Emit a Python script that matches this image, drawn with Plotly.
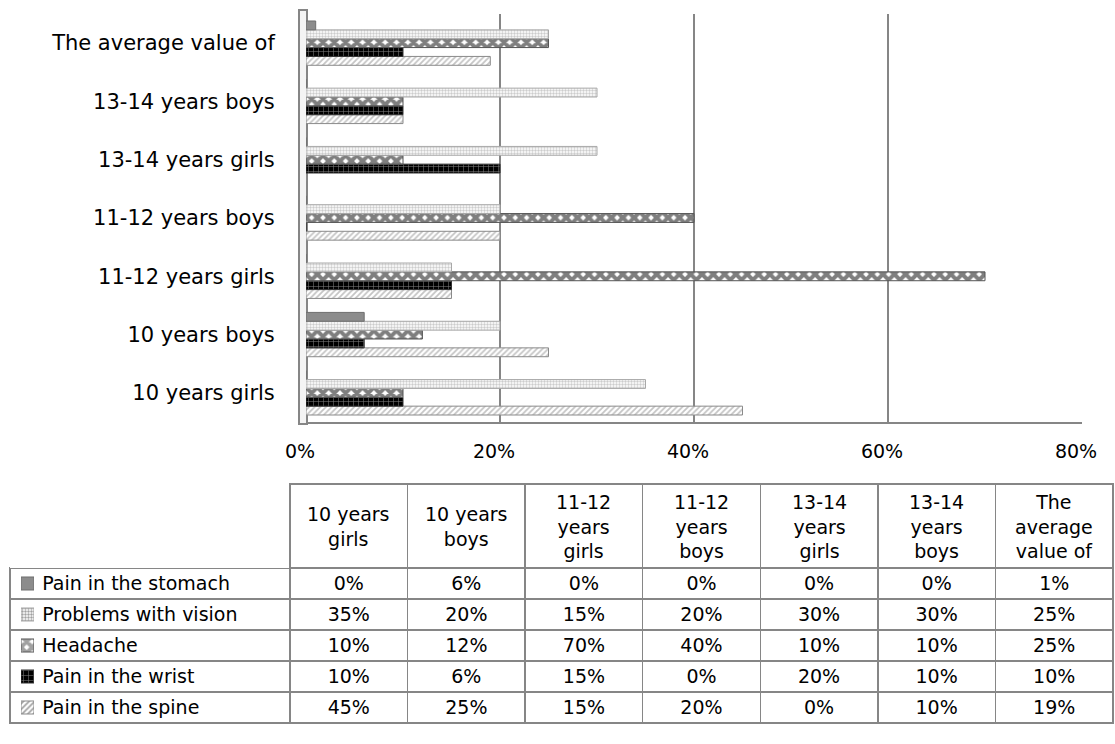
import plotly.graph_objects as go

categories = ["10 years girls", "10 years boys", "11-12 years girls", "11-12 years boys",
              "13-14 years girls", "13-14 years boys", "The average value of"]
header_labels = ["10 years<br>girls", "10 years<br>boys", "11-12<br>years<br>girls",
                 "11-12<br>years<br>boys", "13-14<br>years<br>girls", "13-14<br>years<br>boys",
                 "The<br>average<br>value of"]
series_names = ["Pain in the stomach", "Problems with vision", "Headache",
                "Pain in the wrist", "Pain in the spine"]
stomach = [0, 6, 0, 0, 0, 0, 1]
vision = [35, 20, 15, 20, 30, 30, 25]
headache = [10, 12, 70, 40, 10, 10, 25]
wrist = [10, 6, 15, 0, 20, 10, 10]
spine = [45, 25, 15, 20, 0, 10, 19]
x_ticks = [0, 0.2, 0.4, 0.6, 0.8]

FONT = "DejaVu Sans"
GRAY = "#868686"
W, H = 1115, 744
NBSP = "\u00a0"

styles = {
    "Pain in the stomach": dict(color="#8c8c8c", shape="", fg="#8c8c8c", bg="#8c8c8c", size=8, sol=0.3, line="#6e6e6e"),
    "Problems with vision": dict(color="white", shape=".", fg="#9a9a9a", bg="white", size=3, sol=0.5, line="#a8a8a8"),
    "Headache": dict(color="white", shape="x", fg="black", bg="white", size=8, sol=0.75, line="#555555"),
    "Pain in the wrist": dict(color="black", shape="+", fg="white", bg="black", size=5, sol=0.2, line="#333333"),
    "Pain in the spine": dict(color="white", shape="/", fg="#8a8a8a", bg="white", size=4, sol=0.45, line="#8a8a8a"),
}
values = {"Pain in the stomach": stomach, "Problems with vision": vision, "Headache": headache,
          "Pain in the wrist": wrist, "Pain in the spine": spine}


def pattern(st):
    return dict(shape=st["shape"], fgcolor=st["fg"], bgcolor=st["bg"], size=st["size"], solidity=st["sol"])


fig = go.Figure()
# plotly puts first trace at the bottom of each group -> reverse order
for name in reversed(series_names):
    st = styles[name]
    fig.add_trace(go.Bar(
        y=categories, x=[v / 100 for v in values[name]], orientation="h", name=name,
        marker=dict(color=st["color"], pattern=pattern(st), line=dict(color=st["line"], width=1)),
        showlegend=False, xaxis="x", yaxis="y",
    ))

# data table geometry
tab_x0, tab_x1 = 10, 1113
tab_top = 484
header_h = 84
row_h = 31
col_w = [280] + [117.6] * len(categories)

row_labels = [NBSP * 4 + n.replace(" ", NBSP) for n in series_names]
cols = [row_labels] + [[f"{values[n][i]}%" for n in series_names] for i in range(len(categories))]
fig.add_trace(go.Table(
    domain=dict(x=[tab_x0 / W, tab_x1 / W], y=[0, 1 - tab_top / H]),
    columnwidth=col_w,
    header=dict(values=[""] * (len(categories) + 1), height=header_h,
                line=dict(color=["white"] + [GRAY] * 7, width=[0] + [1.5] * 7),
                fill=dict(color="white"),
                font=dict(family=FONT, size=19, color="black")),
    cells=dict(values=cols, height=row_h, line=dict(color=GRAY, width=1.5),
               fill=dict(color=["rgba(0,0,0,0)"] + ["white"] * 7), align=["left"] + ["center"] * 7,
               font=dict(family=FONT, size=19, color="black")),
))

# legend swatches inside the first table column (small bars with the same patterns)
sw_top = tab_top + header_h
fig.add_trace(go.Bar(
    y=series_names, x=[1] * len(series_names), orientation="h", width=0.42,
    marker=dict(color=[styles[n]["color"] for n in series_names],
                pattern=dict(shape=[styles[n]["shape"] for n in series_names],
                             fgcolor=[styles[n]["fg"] for n in series_names],
                             bgcolor=[styles[n]["bg"] for n in series_names],
                             size=[styles[n]["size"] for n in series_names],
                             solidity=[styles[n]["sol"] for n in series_names]),
                line=dict(color=[styles[n]["line"] for n in series_names], width=1)),
    showlegend=False, xaxis="x2", yaxis="y2", hoverinfo="skip",
))

# header texts, centred line by line in each header cell
scale = (tab_x1 - tab_x0) / sum(col_w)
annotations = []
left = tab_x0 + col_w[0] * scale
for i, lab in enumerate(header_labels):
    cw = col_w[i + 1] * scale
    annotations.append(dict(
        text=lab, xref="paper", yref="paper", x=(left + cw / 2) / W, y=1 - (tab_top + header_h / 2) / H,
        xanchor="center", yanchor="middle", align="center", showarrow=False,
        font=dict(family=FONT, size=19, color="black")))
    left += cw

fig.update_layout(
    width=W, height=H, margin=dict(l=0, r=0, t=0, b=0),
    paper_bgcolor="white", plot_bgcolor="rgba(0,0,0,0)",
    barmode="group", bargap=0.24, bargroupgap=0,
    font=dict(family=FONT, size=19, color="black"),
    xaxis=dict(domain=[306 / W, 1082 / W], range=[0, 0.8], tickvals=x_ticks, tickformat=".0%",
               showgrid=True, gridcolor=GRAY, gridwidth=2, zeroline=False,
               showline=True, linecolor=GRAY, linewidth=2, automargin=False,
               ticks="outside", ticklen=11, tickcolor="rgba(0,0,0,0)", ticklabelshift=-6,
               tickfont=dict(family=FONT, size=19), anchor="y"),
    yaxis=dict(domain=[1 - 422 / H, 1 - 14 / H], type="category", categoryorder="array",
               categoryarray=categories, showgrid=False, zeroline=False, showline=False,
               automargin=False,
               ticks="outside", ticklen=26, tickcolor="rgba(0,0,0,0)",
               tickfont=dict(family=FONT, size=21), anchor="x"),
    xaxis2=dict(domain=[21 / W, 34 / W], range=[0, 1], visible=False, fixedrange=True, anchor="y2"),
    yaxis2=dict(domain=[1 - (sw_top + row_h * len(series_names)) / H, 1 - sw_top / H],
                type="category", categoryorder="array", categoryarray=list(reversed(series_names)),
                visible=False, fixedrange=True, anchor="x2"),
    annotations=annotations,
    shapes=[dict(type="rect", xref="paper", x0=299 / W, x1=307 / W,
                 yref="paper", y0=1 - 424 / H, y1=1 - 10 / H,
                 line=dict(color=GRAY, width=2), fillcolor="#f4f4f4", layer="below")],
)

fig.write_html("out.html")
